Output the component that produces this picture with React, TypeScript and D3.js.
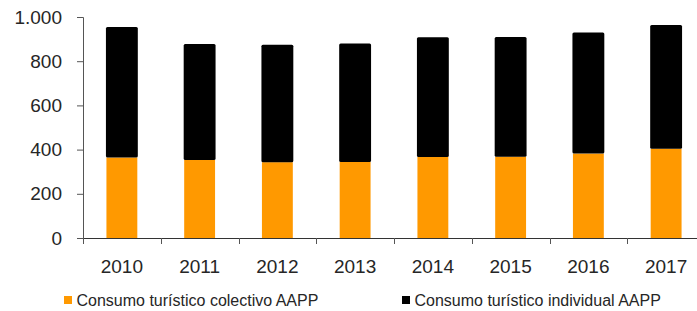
import * as React from "react"
import * as d3 from "d3"

const years = ["2010", "2011", "2012", "2013", "2014", "2015", "2016", "2017"]
const colectivo = [364, 353, 343, 344, 367, 368, 382, 404]
const individual = [591, 525, 532, 536, 541, 542, 548, 560]
const yTicks = [0, 200, 400, 600, 800, 1000]
const seriesNames = [
  "Consumo turístico colectivo AAPP",
  "Consumo turístico individual AAPP",
]
const colors = ["#ff9900", "#000000"]

const FONT = "'Liberation Sans', Arial, Helvetica, sans-serif"
const TEXT = "#262626"

function render(svgRef: React.RefObject<SVGSVGElement | null>) {
  const width = 697
  const height = 311
  const left = 83
  const right = 705
  const top = 17
  const bottom = 238

  const svg = d3.select(svgRef.current).attr("width", width).attr("height", height)
  svg.selectAll("*").remove()

  const x = d3.scaleBand().domain(years).range([left, right]).paddingInner(0.59).paddingOuter(0.295)
  const xCat = d3.scaleBand().domain(years).range([left, right])
  const y = d3.scaleLinear().domain([0, 1000]).range([bottom, top])

  const fmt = d3.formatLocale({ decimal: ",", thousands: ".", grouping: [3], currency: ["", "€"] }).format(",")

  // stacked bars
  const stacked = years.map((yr, i) => ({ yr, a: colectivo[i], b: individual[i] }))

  const g = svg.append("g")
  g.selectAll(".bar-a")
    .data(stacked)
    .join("rect")
    .attr("class", "bar-a")
    .attr("x", (d) => x(d.yr)! + 0.5)
    .attr("width", x.bandwidth() - 1)
    .attr("y", (d) => y(d.a))
    .attr("height", (d) => y(0) - y(d.a))
    .attr("fill", colors[0])

  g.selectAll(".bar-b")
    .data(stacked)
    .join("rect")
    .attr("class", "bar-b")
    .attr("x", (d) => x(d.yr)!)
    .attr("width", x.bandwidth())
    .attr("y", (d) => y(d.a + d.b))
    .attr("height", (d) => y(d.a) - y(d.a + d.b))
    .attr("rx", 1.5)
    .attr("fill", colors[1])

  // y axis
  const yAxis = svg
    .append("g")
    .attr("transform", `translate(${left},0)`)
    .call(d3.axisLeft(y).tickValues(yTicks).tickFormat((d) => fmt(d as number)).tickSize(6).tickPadding(15))
  yAxis.select(".domain").attr("stroke", "#555")
  yAxis.selectAll(".tick line").attr("stroke", "#555")
  yAxis
    .selectAll(".tick text")
    .attr("font-family", FONT)
    .attr("font-size", 19)
    .attr("fill", TEXT)

  // x axis: line with ticks at category boundaries
  svg
    .append("line")
    .attr("x1", left)
    .attr("x2", right)
    .attr("y1", bottom + 0.5)
    .attr("y2", bottom + 0.5)
    .attr("stroke", "#333")
  svg
    .selectAll(".xtick")
    .data(years)
    .join("line")
    .attr("class", "xtick")
    .attr("x1", (d) => Math.round(xCat(d)!) + 0.5)
    .attr("x2", (d) => Math.round(xCat(d)!) + 0.5)
    .attr("y1", bottom)
    .attr("y2", bottom + 6)
    .attr("stroke", "#555")

  svg
    .selectAll(".xlabel")
    .data(years)
    .join("text")
    .attr("class", "xlabel")
    .attr("x", (d) => x(d)! + x.bandwidth() / 2)
    .attr("y", 273)
    .attr("text-anchor", "middle")
    .attr("font-family", FONT)
    .attr("font-size", 19)
    .attr("fill", TEXT)
    .text((d) => d)

  // legend
  const legendX = [64, 402]
  const lg = svg
    .selectAll(".legend")
    .data(seriesNames)
    .join("g")
    .attr("class", "legend")
    .attr("transform", (_d, i) => `translate(${legendX[i]},296)`)
  lg.append("rect").attr("width", 8).attr("height", 8).attr("fill", (_d, i) => colors[i])
  lg.append("text")
    .attr("x", 12.5)
    .attr("y", 10)
    .attr("font-family", FONT)
    .attr("font-size", 16)
    .attr("fill", TEXT)
    .text((d) => d)
}

export default function App() {
  const svgRef = React.useRef<SVGSVGElement>(null)

  React.useEffect(() => {
    render(svgRef)
  }, [])

  return (
    <div style={{ position: "absolute", left: 0, top: 0 }}>
      <svg ref={svgRef} style={{ display: "block" }}></svg>
    </div>
  )
}
